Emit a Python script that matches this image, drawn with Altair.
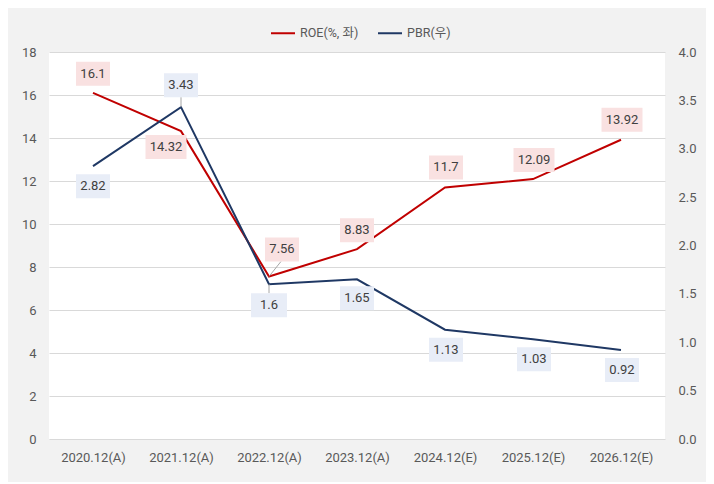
import altair as alt
import pandas as pd

# ---- data ----
categories = ["2020.12(A)", "2021.12(A)", "2022.12(A)", "2023.12(A)",
              "2024.12(E)", "2025.12(E)", "2026.12(E)"]
roe = [16.1, 14.32, 7.56, 8.83, 11.7, 12.09, 13.92]
pbr = [2.82, 3.43, 1.6, 1.65, 1.13, 1.03, 0.92]
roe_labels = ["16.1", "14.32", "7.56", "8.83", "11.7", "12.09", "13.92"]
pbr_labels = ["2.82", "3.43", "1.6", "1.65", "1.13", "1.03", "0.92"]
ROE_NAME = "ROE(%, 좌)"
PBR_NAME = "PBR(우)"

# ---- style ----
FONT = "Roboto, 'Noto Sans CJK KR', sans-serif"
RED = "#c00000"
NAVY = "#1f3864"
PINK_BOX = "#f9e1e1"
BLUE_BOX = "#e8edf7"
AXIS_TXT = "#595959"
LABEL_TXT = "#404040"
BOXW = {3: 36, 4: 34, 5: 41}
BOXH = 24
# label offsets (dx, dy) in pixels, by category index
roe_place = [(0, -19), (-15, 16), (13, -27), (0, -19), (1, -20), (1, -19), (1, -20)]
pbr_place = [(0, 20), (0, -22), (0, 21), (0, 19), (1, 20), (1, 20), (1, 20)]
# leader lines: index -> (x2Offset, y2Offset)
roe_leaders = {2: (12, -15)}
pbr_leaders = {1: (0, -10), 2: (0, 9)}

df = pd.DataFrame({"cat": categories, "ROE": roe, "PBR": pbr,
                   "roe_label": roe_labels, "pbr_label": pbr_labels})
base = alt.Chart(df)

xscale = alt.Scale(type="point", padding=0.5)
x_axis_def = alt.Axis(title=None, labelAngle=0, ticks=False, tickSize=0,
                      domain=False, grid=False, labelPadding=12,
                      labelFontSize=13, labelColor=AXIS_TXT, labelFont=FONT)
x_enc = alt.X("cat:N", sort=categories, scale=xscale, axis=x_axis_def)
x2 = alt.X2("cat")

roe_scale = alt.Scale(domain=[0, 18], nice=False, zero=True)
pbr_scale = alt.Scale(domain=[0, 4], nice=False, zero=True)
roe_axis = alt.Axis(orient="left", title=None, values=list(range(0, 19, 2)),
                    ticks=False, tickSize=0, domain=False, grid=True,
                    gridColor="#d9d9d9", gridWidth=1, labelPadding=13,
                    labelFontSize=13, labelColor=AXIS_TXT, labelFont=FONT)
pbr_axis = alt.Axis(orient="right", title=None,
                    values=[0, 0.5, 1, 1.5, 2, 2.5, 3, 3.5, 4], format=".1f",
                    ticks=False, tickSize=0, domain=False, grid=False,
                    labelPadding=13, labelFontSize=13, labelColor=AXIS_TXT,
                    labelFont=FONT)

color = alt.Color(
    "series:N",
    scale=alt.Scale(domain=[ROE_NAME, PBR_NAME], range=[RED, NAVY]),
    legend=alt.Legend(title=None, orient="none", legendX=221, legendY=-32,
                      direction="horizontal", symbolType="stroke", symbolSize=576,
                      symbolStrokeWidth=2, labelFontSize=12.5, labelColor=AXIS_TXT,
                      labelFont=FONT, columnPadding=15, labelOffset=4, padding=0),
)


def group(field, label_field, labels, place, leaders, fill, scale, axis, name):
    yy = alt.Y(f"{field}:Q", scale=scale, axis=axis)
    y2 = alt.Y2(field)
    layers = [base.transform_calculate(series=f"'{name}'").mark_line(strokeWidth=2)
              .encode(x=x_enc, y=yy, color=color)]
    for i, c in enumerate(categories):
        dx, dy = place[i]
        w = BOXW[len(labels[i])]
        sub = base.transform_filter(alt.datum.cat == c)
        if i in leaders:
            lx, ly = leaders[i]
            layers.append(sub.mark_rule(color="#a6a6a6", strokeWidth=1,
                                        x2Offset=lx, y2Offset=ly).encode(
                x=x_enc, x2=x2, y=yy, y2=y2))
        layers.append(sub.mark_rect(fill=fill, xOffset=dx - w / 2, x2Offset=dx + w / 2,
                                    yOffset=dy - BOXH / 2, y2Offset=dy + BOXH / 2).encode(
            x=x_enc, x2=x2, y=yy, y2=y2))
        layers.append(sub.mark_text(dx=dx, dy=dy, align="center", baseline="middle",
                                    font=FONT, fontSize=13, color=LABEL_TXT).encode(
            x=x_enc, y=yy, text=f"{label_field}:N"))
    return alt.layer(*layers)


roe_layer = group("ROE", "roe_label", roe_labels, roe_place, roe_leaders, PINK_BOX,
                  roe_scale, roe_axis, ROE_NAME)
pbr_layer = group("PBR", "pbr_label", pbr_labels, pbr_place, pbr_leaders, BLUE_BOX,
                  pbr_scale, pbr_axis, PBR_NAME)

chart = alt.layer(roe_layer, pbr_layer).resolve_scale(y="independent").properties(
    width=616, height=387,
    padding={"left": 13, "right": 9, "top": 12, "bottom": 18},
    background="#f2f2f2",
).configure_view(fill="white", stroke=None)

chart.save("out.html", embed_options={"renderer": "svg", "actions": False})
